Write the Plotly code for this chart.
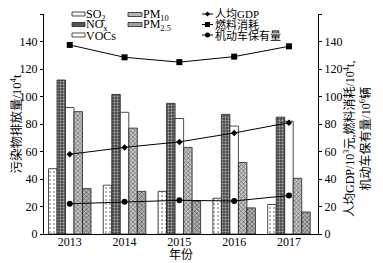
import plotly.graph_objects as go

years = ["2013", "2014", "2015", "2016", "2017"]
so2 = [47.5, 35.5, 31, 26, 21.5]
nox = [112, 101.5, 95, 87, 85]
vocs = [92, 88.5, 84, 78.5, 82]
pm10 = [89, 77, 63, 52, 40.5]
pm25 = [33, 31, 24, 19, 16]
gdp = [58, 63, 67, 73.5, 81]
fuel = [137.5, 128.5, 125, 129, 136.5]
vehicles = [22, 23.5, 24.5, 24, 28]

# page is offset by the default 8px body margin
OFF = 8
PW, PH = 383, 263
W, H = PW - OFF, PH - OFF
L, R, T, B = 44, 318, 14, 234   # plot area in page pixels

SERIF = "Liberation Serif"
CJK = "Noto Sans CJK SC"
FONT = SERIF + ", " + CJK

def px(x):
    return (x - L) / (R - L)

def py(y):
    return (B - y) / (B - T)

fig = go.Figure()
line_col = "#222"
bar_specs = [
    ("SO<sub>2</sub>", so2, dict(shape=".", bgcolor="#ffffff", fgcolor="#9a9a9a", size=4, solidity=0.2)),
    ("NO<sub>x</sub>", nox, dict(shape=".", bgcolor="#4d4d4d", fgcolor="#b0b0b0", size=3, solidity=0.3)),
    ("VOCs", vocs, None),
    ("PM<sub>10</sub>", pm10, dict(shape="x", bgcolor="#c4c4c4", fgcolor="#6a6a6a", size=3, solidity=0.4)),
    ("PM<sub>2.5</sub>", pm25, dict(shape="x", bgcolor="#b0b0b0", fgcolor="#5a5a5a", size=3, solidity=0.4)),
]
for name, vals, pat in bar_specs:
    m = dict(color="#ffffff" if pat is None else pat["bgcolor"], line=dict(color=line_col, width=0.8))
    if pat is not None:
        m["pattern"] = dict(shape=pat["shape"], bgcolor=pat["bgcolor"], fgcolor=pat["fgcolor"],
                            size=pat["size"], solidity=pat["solidity"], fillmode="replace")
    fig.add_trace(go.Bar(x=years, y=vals, name=name, marker=m, showlegend=False))

line_specs = [
    ("人均GDP", gdp, "diamond", 5),
    ("燃料消耗", fuel, "square", 6),
    ("机动车保有量", vehicles, "circle", 6),
]
for name, vals, sym, sz in line_specs:
    fig.add_trace(go.Scatter(x=years, y=vals, name=name, yaxis="y2", mode="lines+markers",
                             line=dict(color="black", width=1),
                             marker=dict(symbol=sym, size=sz, color="black"),
                             showlegend=False))

shapes = []
annotations = []
# bar legend (manual, compact)
bar_leg = [
    (72, 85, 14, "SO<sub>2</sub>", "#f4f4f4"),
    (72, 85, 24.5, "NO<sub>x</sub>", "#555555"),
    (72, 85, 35, "VOCs", "#ffffff"),
    (128, 142, 14.5, "PM<sub>10</sub>", "#b5b5b5"),
    (128, 142, 24.5, "PM<sub>2.5</sub>", "#a0a0a0"),
]
for x0, x1, yc, txt, col in bar_leg:
    shapes.append(dict(type="rect", xref="paper", yref="paper", x0=px(x0), x1=px(x1),
                       y0=py(yc + 2), y1=py(yc - 2), fillcolor=col,
                       line=dict(color="#222", width=0.8)))
    annotations.append(dict(xref="paper", yref="paper", x=px(x1), y=py(yc + 0.5), text=txt,
                            showarrow=False, xanchor="left", yanchor="middle", borderpad=0,
                            font=dict(family=FONT, size=12, color="black")))
# line legend
line_leg = [(14, "人均GDP", "diamond"), (24.5, "燃料消耗", "square"), (35, "机动车保有量", "circle")]
for yc, txt, sym in line_leg:
    shapes.append(dict(type="line", xref="paper", yref="paper", x0=px(202), x1=px(213),
                       y0=py(yc), y1=py(yc), line=dict(color="black", width=1)))
    cx = 207.5
    if sym == "square":
        shapes.append(dict(type="rect", xref="paper", yref="paper", x0=px(cx - 2.5), x1=px(cx + 2.5),
                           y0=py(yc + 2.5), y1=py(yc - 2.5), fillcolor="black", line=dict(width=0)))
    elif sym == "circle":
        shapes.append(dict(type="circle", xref="paper", yref="paper", x0=px(cx - 2.5), x1=px(cx + 2.5),
                           y0=py(yc + 2.5), y1=py(yc - 2.5), fillcolor="black", line=dict(width=0)))
    else:
        path = "M {} {} L {} {} L {} {} L {} {} Z".format(
            px(cx - 2.5), py(yc), px(cx), py(yc - 2.5), px(cx + 2.5), py(yc), px(cx), py(yc + 2.5))
        shapes.append(dict(type="path", xref="paper", yref="paper", path=path, fillcolor="black",
                           line=dict(width=0)))
    annotations.append(dict(xref="paper", yref="paper", x=px(214), y=py(yc), text=txt,
                            showarrow=False, xanchor="left", yanchor="middle", borderpad=0,
                            font=dict(family=FONT, size=11, color="black")))

# right axis title
annotations.append(dict(xref="paper", yref="paper", x=px(357), y=py(139),
                        text="人均GDP/10<sup>3</sup>元,燃料消耗/10<sup>4</sup>t,<br>机动车保有量/10<sup>6</sup>辆",
                        textangle=-90, showarrow=False, xanchor="center", yanchor="middle",
                        font=dict(family=FONT, size=12, color="black")))
# x axis title
annotations.append(dict(xref="paper", yref="paper", x=px(181), y=py(254.5), text="年份",
                        showarrow=False, xanchor="center", yanchor="middle", borderpad=0,
                        font=dict(family=FONT, size=12, color="black")))

fig.update_layout(
    width=W, height=H,
    margin=dict(l=L - OFF, r=W - (R - OFF), t=T - OFF, b=H - (B - OFF), autoexpand=False),
    paper_bgcolor="white", plot_bgcolor="white",
    barmode="group", bargap=0.224, bargroupgap=0,
    font=dict(family=FONT, size=12, color="black"),
    shapes=shapes, annotations=annotations,
    xaxis=dict(type="category", range=[-0.47, 4.53], showline=True, linecolor="black", linewidth=1,
               ticks="", showgrid=False, zeroline=False, ticklabelstandoff=-3,
               tickfont=dict(family=FONT, size=12)),
    yaxis=dict(range=[0, 160], dtick=20, showline=True, linecolor="black", linewidth=1,
               ticks="outside", ticklen=3, tickcolor="black", showgrid=False, zeroline=False,
               tickfont=dict(family=FONT, size=12),
               title=dict(text="污染物排放量/10<sup>4</sup>t", standoff=4,
                          font=dict(family=FONT, size=12.5))),
    yaxis2=dict(range=[0, 160], dtick=20, overlaying="y", side="right", showline=True,
                linecolor="black", linewidth=1, ticks="outside", ticklen=3, tickcolor="black",
                showgrid=False, zeroline=False, tickfont=dict(family=FONT, size=12)),
)

fig.write_html("out.html")
